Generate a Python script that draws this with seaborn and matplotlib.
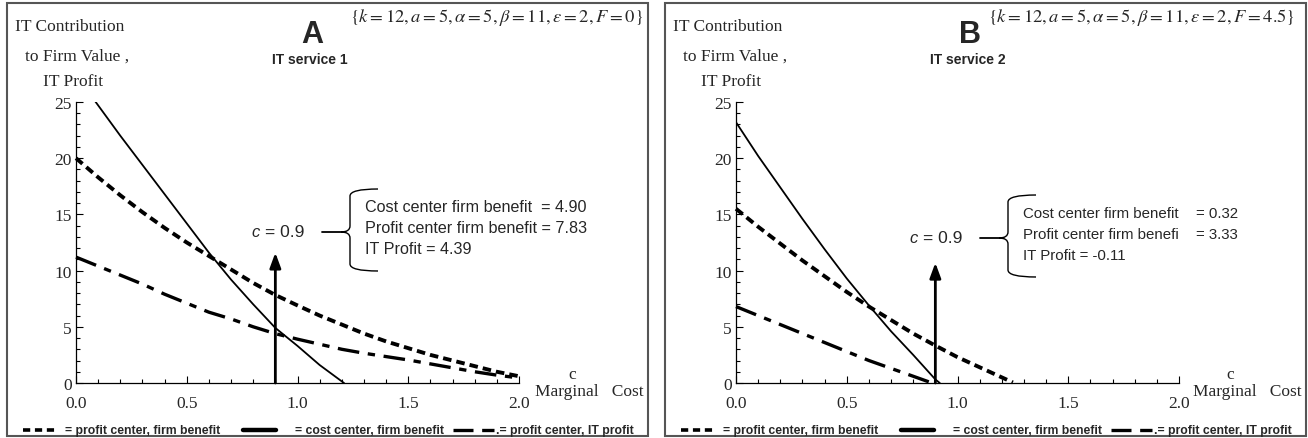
import numpy as np
import pandas as pd
import matplotlib
matplotlib.use("Agg")
import matplotlib.pyplot as plt
import seaborn as sns
from matplotlib.path import Path
from matplotlib.patches import PathPatch, Rectangle
from matplotlib.ticker import MultipleLocator

# ---- values ----
c_full = [0.0, 0.1, 0.2, 0.3, 0.4, 0.5, 0.6, 0.7, 0.8, 0.9, 1.0,
          1.1, 1.2, 1.3, 1.4, 1.5, 1.6, 1.7, 1.8, 1.9, 2.0]

# panel A (IT service 1)
cc_c_a = [0.0, 0.1, 0.2, 0.3, 0.4, 0.5, 0.6, 0.7, 0.8, 0.9, 1.0, 1.1, 1.21]
cc_firm_a = [27.4, 24.7, 22.0, 19.4, 16.8, 14.2, 11.6, 9.2, 7.0, 4.9, 3.3, 1.6, 0.0]
pc_firm_a = [20.0, 18.3, 16.7, 15.2, 13.8, 12.5, 11.3, 10.1, 8.9, 7.83, 6.9,
             6.0, 5.2, 4.4, 3.7, 3.1, 2.5, 2.0, 1.5, 1.0, 0.6]
it_profit_a = [11.2, 10.4, 9.6, 8.8, 7.9, 7.1, 6.3, 5.7, 5.0, 4.39, 3.9,
               3.45, 3.0, 2.65, 2.35, 2.05, 1.7, 1.35, 1.0, 0.7, 0.45]

# panel B (IT service 2)
cc_c_b = [0.0, 0.1, 0.2, 0.3, 0.4, 0.5, 0.6, 0.7, 0.8, 0.9, 0.92]
cc_firm_b = [23.2, 20.2, 17.4, 14.6, 11.9, 9.3, 6.9, 4.6, 2.5, 0.32, 0.0]
pc_c_b = [0.0, 0.1, 0.2, 0.3, 0.4, 0.5, 0.6, 0.7, 0.8, 0.9, 1.0, 1.1, 1.2, 1.25]
pc_firm_b = [15.5, 13.9, 12.4, 10.9, 9.5, 8.1, 6.8, 5.6, 4.4, 3.33, 2.3, 1.4, 0.5, 0.05]
it_c_b = [0.0, 0.1, 0.2, 0.3, 0.4, 0.5, 0.6, 0.7, 0.8, 0.885]
it_profit_b = [6.8, 6.0, 5.2, 4.4, 3.6, 2.8, 2.0, 1.3, 0.6, 0.0]

c_mark = 0.9
arrow_top = [11.6, 10.7]
titles = ["A", "B"]
services = ["IT service 1", "IT service 2"]
params = [r"$\{k=12, a=5, \alpha=5, \beta=11, \varepsilon=2, F=0\}$",
          r"$\{k=12, a=5, \alpha=5, \beta=11, \varepsilon=2, F=4.5\}$"]
note_labels = [["Cost center firm benefit  = 4.90", "Profit center firm benefit = 7.83", "IT Profit = 4.39"],
               ["Cost center firm benefit", "Profit center firm benefi", "IT Profit = -0.11"]]
note_values = [[None, None, None], ["= 0.32", "= 3.33", None]]
legend_texts = ["= profit center, firm benefit", "= cost center, firm benefit", ".= profit center, IT profit"]

sns.set_style("white")
plt.rcParams['mathtext.fontset'] = 'stix'
plt.rcParams['font.family'] = ['Liberation Serif', 'DejaVu Serif']

W, H = 1308, 439
fig = plt.figure(figsize=(W / 100, H / 100), dpi=100)


def fx(x):
    return x / W


def fy(y):
    return 1 - y / H


dot_style = (0, (2.2, 1.3))
dash_style = (0, (6.5, 2.6, 2.2, 2.6))
serif = 'Liberation Serif'
sans = 'Liberation Sans'


def brace(x_conn, xb, yt, yb, xh, ym):
    verts = [(xh, yt), (xb, yt), (xb, yt + 7), (xb, ym - 6), (xb, ym), (xb - 9, ym),
             (xb, ym), (xb, ym + 6), (xb, yb - 7), (xb, yb), (xh, yb)]
    codes = [Path.MOVETO, Path.CURVE3, Path.CURVE3, Path.LINETO, Path.CURVE3, Path.CURVE3,
             Path.CURVE3, Path.CURVE3, Path.LINETO, Path.CURVE3, Path.CURVE3]
    pts = [(fx(a), fy(b)) for a, b in verts]
    fig.add_artist(PathPatch(Path(pts, codes), fill=False, lw=1.0, color='black',
                             transform=fig.transFigure))
    fig.add_artist(plt.Line2D([fx(x_conn), fx(xb - 9)], [fy(ym), fy(ym)], lw=1.3,
                              color='black', transform=fig.transFigure))


panels = [
    dict(off=0, ax_left=76, cc=(cc_c_a, cc_firm_a), pc=(c_full, pc_firm_a), it=(c_full, it_profit_a),
         ann_dy=0, param_right=643, note_size=11.6, val_x=536),
    dict(off=658, ax_left=736, cc=(cc_c_b, cc_firm_b), pc=(pc_c_b, pc_firm_b), it=(it_c_b, it_profit_b),
         ann_dy=6, param_right=1295, note_size=10.8, val_x=1196),
]

for i, p in enumerate(panels):
    off = p['off']
    # frame
    fig.add_artist(Rectangle((fx(7 + off), fy(437)), fx(641), 433 / H, fill=False,
                             lw=1.5, edgecolor='#555555', transform=fig.transFigure))

    ax = fig.add_axes([fx(p['ax_left']), fy(384), fx(443), 281 / H])
    ax.set_facecolor('none')
    sns.lineplot(x=p['pc'][0], y=p['pc'][1], ax=ax, color='black', linewidth=2.8,
                 linestyle=dot_style, clip_on=False)
    sns.lineplot(x=p['it'][0], y=p['it'][1], ax=ax, color='black', linewidth=2.4,
                 linestyle=dash_style, clip_on=False)
    sns.lineplot(x=p['cc'][0], y=p['cc'][1], ax=ax, color='black', linewidth=1.3)
    ax.annotate('', xy=(c_mark, arrow_top[i]), xytext=(c_mark, 0),
                arrowprops=dict(arrowstyle='-|>,head_length=0.6,head_width=0.22', lw=2.0,
                                color='black', mutation_scale=15, shrinkA=0, shrinkB=0))

    ax.set_xlim(0, 2.0)
    ax.set_ylim(0, 25)
    ax.xaxis.set_major_locator(MultipleLocator(0.5))
    ax.xaxis.set_minor_locator(MultipleLocator(0.1))
    ax.yaxis.set_major_locator(MultipleLocator(5))
    ax.yaxis.set_minor_locator(MultipleLocator(1))
    ax.xaxis.set_major_formatter(plt.FuncFormatter(lambda v, _: f"{v:.1f}"))
    ax.yaxis.set_major_formatter(plt.FuncFormatter(lambda v, _: f"{v:.0f}"))
    for s in ['top', 'right']:
        ax.spines[s].set_visible(False)
    for s in ['left', 'bottom']:
        ax.spines[s].set_linewidth(0.9)
        ax.spines[s].set_color('black')
    ax.tick_params(which='both', direction='in', color='black', width=0.8,
                   labelsize=12.5, bottom=True, left=True)
    for lab in ax.get_xticklabels() + ax.get_yticklabels():
        lab.set_family(serif)
    ax.tick_params(which='major', length=5)
    ax.tick_params(which='minor', length=3)
    ax.tick_params(axis='x', pad=9)
    ax.tick_params(axis='y', pad=3)
    ax.set_xlabel('')
    ax.set_ylabel('')

    # y label
    fig.text(fx(15 + off), fy(27), "IT Contribution", fontsize=12.5, family=serif, va='center')
    fig.text(fx(25 + off), fy(57), "to Firm Value ,", fontsize=12.5, family=serif, va='center')
    fig.text(fx(43 + off), fy(82), "IT Profit", fontsize=12.5, family=serif, va='center')
    # x label
    fig.text(fx(572 + off), fy(375), "c", fontsize=12.5, family=serif, ha='center', va='center')
    fig.text(fx(535 + off), fy(392), "Marginal   Cost", fontsize=12.5, family=serif, va='center')

    # titles
    fig.text(fx(312 + off), fy(35), titles[i], fontsize=22, weight='bold', family=sans,
             ha='center', va='center')
    fig.text(fx(310 + off), fy(60), services[i], fontsize=10, weight='bold', family=sans,
             ha='center', va='center')
    fig.text(fx(p['param_right']), fy(17), params[i], fontsize=13.3, ha='right', va='center')

    # c = 0.9 annotation with brace
    dy = p['ann_dy']
    fig.text(fx(251 + off), fy(233 + dy), "c", fontsize=12, family=sans, style='italic',
             va='center')
    fig.text(fx(265 + off), fy(233 + dy), "= 0.9", fontsize=12.5, family=sans, va='center')
    brace(322 + off, 350 + off, 190 + dy, 272 + dy, 378 + off, 233 + dy)
    for k in range(3):
        y = 208 + dy + 21 * k
        fig.text(fx(365 + off), fy(y), note_labels[i][k], fontsize=p['note_size'], family=sans,
                 va='center')
        if note_values[i][k]:
            fig.text(fx(p['val_x']), fy(y), note_values[i][k], fontsize=p['note_size'],
                     family=sans, va='center')

    # legend row
    ly = 431
    fig.add_artist(plt.Line2D([fx(23 + off), fx(55 + off)], [fy(ly), fy(ly)], lw=2.6,
                              linestyle=(0, (2.0, 1.3)), color='black', transform=fig.transFigure))
    fig.text(fx(65 + off), fy(ly), legend_texts[0], fontsize=8.8, weight='bold', family=sans,
             va='center')
    fig.add_artist(plt.Line2D([fx(243 + off), fx(276 + off)], [fy(ly), fy(ly)], lw=3.2,
                              color='black', transform=fig.transFigure))
    fig.text(fx(295 + off), fy(ly), legend_texts[1], fontsize=8.8, weight='bold', family=sans,
             va='center')
    fig.add_artist(plt.Line2D([fx(453 + off), fx(494 + off)], [fy(ly), fy(ly)], lw=2.4,
                              linestyle=(0, (6.0, 2.6)), color='black', transform=fig.transFigure))
    fig.text(fx(496 + off), fy(ly), legend_texts[2], fontsize=8.8, weight='bold', family=sans,
             va='center')

fig.savefig("out.png", dpi=100)
